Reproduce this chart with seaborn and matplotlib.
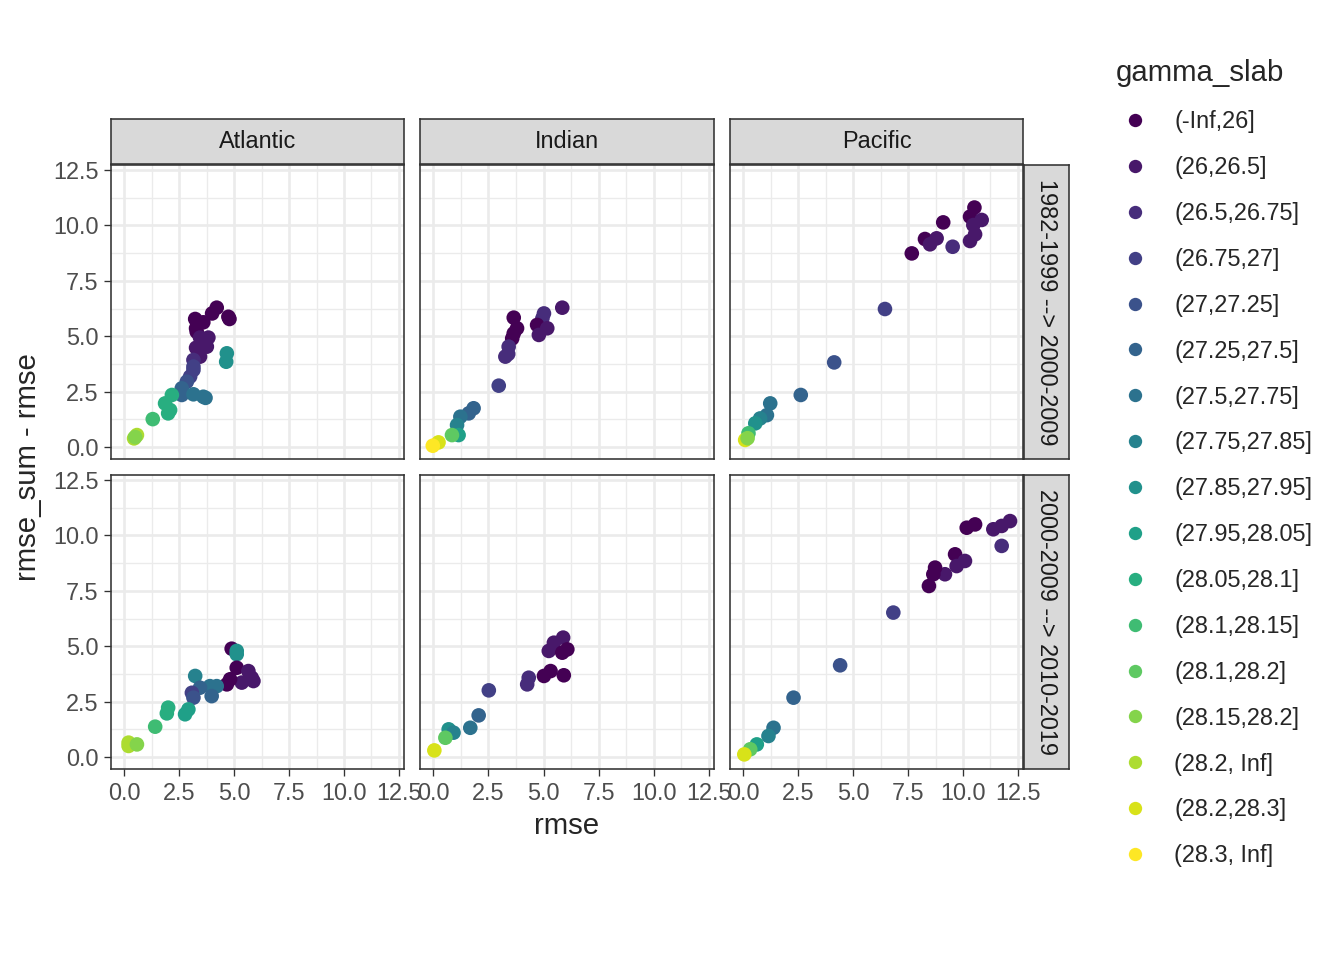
import numpy as np
import pandas as pd
import matplotlib
matplotlib.use("Agg")
import matplotlib.pyplot as plt
from matplotlib.lines import Line2D
import seaborn as sns

# gamma_slab bins (legend order)
gamma_levels = ['(-Inf,26]', '(26,26.5]', '(26.5,26.75]', '(26.75,27]', '(27,27.25]',
                '(27.25,27.5]', '(27.5,27.75]', '(27.75,27.85]', '(27.85,27.95]',
                '(27.95,28.05]', '(28.05,28.1]', '(28.1,28.15]', '(28.1,28.2]',
                '(28.15,28.2]', '(28.2, Inf]', '(28.2,28.3]', '(28.3, Inf]']

basins = ['Atlantic', 'Indian', 'Pacific']
periods = ['1982-1999 --> 2000-2009', '2000-2009 --> 2010-2019']

# Atlantic, first period
atl_1_rmse = [4.21, 4.0, 4.74, 4.79, 3.23, 3.6, 3.27, 3.3, 3.45, 3.83, 3.76, 3.27, 3.45, 3.15, 3.15, 3.15, 3.0,
              2.85, 2.62, 2.62, 3.15, 3.6, 3.7, 4.67, 4.64, 2.17, 1.86, 2.09, 2.0, 1.3, 0.58, 0.45, 0.5]
atl_1_diff = [6.29, 6.03, 5.88, 5.78, 5.78, 5.63, 5.36, 5.2, 4.94, 4.94, 4.53, 4.48, 4.08, 3.93, 3.63, 3.48, 3.18,
              2.95, 2.65, 2.35, 2.38, 2.27, 2.22, 4.23, 3.85, 2.35, 1.97, 1.67, 1.52, 1.26, 0.54, 0.39, 0.45]
atl_1_gam = [0, 0, 0, 0, 0, 0, 0, 0, 1, 1, 1, 1, 1, 2, 3, 3, 3,
             4, 5, 5, 6, 6, 6, 8, 8, 10, 10, 10, 10, 11, 14, 14, 13]

# Atlantic, second period
atl_2_rmse = [4.89, 5.12, 5.12, 5.12, 5.65, 5.8, 5.35, 5.88, 4.82, 4.67, 4.21, 3.9, 3.23, 3.45, 3.08, 3.15,
              3.98, 2.92, 2.77, 2.0, 1.94, 1.41, 0.2, 0.2, 0.58]
atl_2_diff = [4.89, 4.79, 4.64, 4.03, 3.88, 3.58, 3.36, 3.43, 3.51, 3.28, 3.2, 3.2, 3.66, 3.13, 2.9, 2.68,
              2.75, 2.15, 1.93, 2.23, 1.97, 1.37, 0.65, 0.5, 0.57]
atl_2_gam = [0, 8, 8, 0, 1, 1, 1, 1, 0, 0, 6, 6, 7, 5, 3, 4,
             5, 9, 9, 10, 10, 11, 14, 14, 13]

# Indian, first period
ind_1_rmse = [5.85, 5.02, 4.95, 3.65, 3.8, 3.65, 3.58, 4.71, 5.17, 4.79, 3.42, 3.27, 3.4, 2.97, 1.83, 1.61,
              1.23, 1.08, 1.15, 0.85, 0.24, -0.02]
ind_1_diff = [6.29, 6.03, 5.81, 5.84, 5.36, 5.13, 4.9, 5.51, 5.36, 5.06, 4.53, 4.08, 4.2, 2.77, 1.75, 1.52,
              1.37, 0.99, 0.54, 0.54, 0.21, 0.06]
ind_1_gam = [1, 2, 2, 0, 0, 0, 0, 0, 1, 1, 2, 2, 2, 3, 5, 5,
             6, 7, 9, 12, 15, 16]

# Indian, second period
ind_2_rmse = [5.89, 5.47, 5.24, 6.08, 5.85, 5.32, 5.02, 5.92, 4.33, 4.26, 2.52, 2.06, 1.68, 0.7, 0.92, 0.55, 0.05]
ind_2_diff = [5.39, 5.16, 4.79, 4.86, 4.71, 3.88, 3.66, 3.69, 3.58, 3.28, 3.01, 1.88, 1.32, 1.25, 1.1, 0.87, 0.3]
ind_2_gam = [1, 1, 1, 0, 0, 0, 0, 0, 2, 2, 3, 5, 6, 8, 7, 12, 15]

# Pacific, first period
pac_1_rmse = [10.52, 10.32, 10.85, 10.47, 10.55, 10.32, 9.1, 8.27, 8.8, 8.5, 7.67, 9.53, 6.45, 4.14, 2.62,
              1.23, 1.08, 0.77, 0.55, 0.24, 0.09, 0.2]
pac_1_diff = [10.81, 10.4, 10.25, 10.02, 9.6, 9.3, 10.14, 9.39, 9.42, 9.15, 8.74, 9.04, 6.23, 3.82, 2.35,
              1.97, 1.44, 1.29, 1.07, 0.62, 0.32, 0.4]
pac_1_gam = [0, 0, 1, 1, 1, 1, 0, 0, 1, 1, 0, 2, 3, 4, 5, 6, 6, 7, 8, 11, 15, 13]

# Pacific, second period
pac_2_rmse = [10.55, 10.17, 12.14, 11.76, 11.38, 11.76, 9.64, 10.09, 9.71, 9.18, 8.73, 8.65, 8.45, 6.83, 4.41,
              2.29, 1.38, 1.15, 0.62, 0.32, 0.05]
pac_2_diff = [10.5, 10.35, 10.65, 10.43, 10.28, 9.53, 9.15, 8.85, 8.62, 8.25, 8.55, 8.25, 7.72, 6.52, 4.14,
              2.68, 1.32, 0.95, 0.57, 0.35, 0.12]
pac_2_gam = [0, 0, 1, 1, 1, 2, 0, 1, 1, 1, 0, 0, 0, 3, 4, 5, 6, 7, 9, 12, 15]

panels = {
    ('Atlantic', 0): (atl_1_rmse, atl_1_diff, atl_1_gam),
    ('Atlantic', 1): (atl_2_rmse, atl_2_diff, atl_2_gam),
    ('Indian', 0): (ind_1_rmse, ind_1_diff, ind_1_gam),
    ('Indian', 1): (ind_2_rmse, ind_2_diff, ind_2_gam),
    ('Pacific', 0): (pac_1_rmse, pac_1_diff, pac_1_gam),
    ('Pacific', 1): (pac_2_rmse, pac_2_diff, pac_2_gam),
}

sns.set_style("white")
plt.rcParams['font.family'] = ['Liberation Sans', 'DejaVu Sans']

palette = dict(zip(gamma_levels, [matplotlib.colormaps['viridis'](v) for v in np.linspace(0, 1, len(gamma_levels))]))

W, H = 1344, 960
fig = plt.figure(figsize=(7, 5), dpi=192)

def rect(x0, y0, x1, y1):
    return [x0 / W, 1 - y1 / H, (x1 - x0) / W, (y1 - y0) / H]

col_x = [(111, 404), (420, 714), (730, 1023)]
row_y = [(165, 459), (475, 769)]
border = '#333333'
ticks = np.arange(0, 12.6, 2.5)
minor = np.arange(1.25, 12.6, 2.5)

for ci, basin in enumerate(basins):
    for ri in range(2):
        x0, x1 = col_x[ci]
        y0, y1 = row_y[ri]
        ax = fig.add_axes(rect(x0, y0, x1, y1))
        rm, df_, gm = panels[(basin, ri)]
        df = pd.DataFrame({'rmse': rm, 'diff': df_, 'gamma_slab': [gamma_levels[g] for g in gm]})
        sns.scatterplot(data=df, x='rmse', y='diff', hue='gamma_slab', hue_order=gamma_levels,
                        palette=palette, s=30, linewidth=0, legend=False, ax=ax, zorder=3)
        ax.set_xlim(-0.6, 12.73)
        ax.set_ylim(-0.54, 12.73)
        ax.set_xticks(ticks)
        ax.set_yticks(ticks)
        ax.set_xticks(minor, minor=True)
        ax.set_yticks(minor, minor=True)
        ax.grid(True, which='major', color='#EBEBEB', linewidth=1.0)
        ax.grid(True, which='minor', color='#EBEBEB', linewidth=0.5)
        ax.set_axisbelow(True)
        for sp in ax.spines.values():
            sp.set_color(border)
            sp.set_linewidth(0.6)
        ax.tick_params(which='major', length=2.75, width=0.5, color=border, labelsize=8.8,
                       labelcolor='#4D4D4D', pad=2, bottom=ri == 1, left=ci == 0,
                       labelbottom=ri == 1, labelleft=ci == 0)
        ax.tick_params(which='minor', length=0)
        ax.set_xlabel('')
        ax.set_ylabel('')
        ax.xaxis.set_major_formatter(matplotlib.ticker.FormatStrFormatter('%.1f'))
        ax.yaxis.set_major_formatter(matplotlib.ticker.FormatStrFormatter('%.1f'))

# strips on top
for ci, basin in enumerate(basins):
    x0, x1 = col_x[ci]
    sa = fig.add_axes(rect(x0, 119, x1, 164))
    sa.set_facecolor('#D9D9D9')
    sa.set_xticks([]); sa.set_yticks([])
    for sp in sa.spines.values():
        sp.set_color(border); sp.set_linewidth(0.6)
    sa.text(0.5, 0.5, basin, ha='center', va='center', fontsize=8.8, color='#1A1A1A', transform=sa.transAxes)

# strips on the right
for ri, per in enumerate(periods):
    y0, y1 = row_y[ri]
    sa = fig.add_axes(rect(1024, y0, 1069, y1))
    sa.set_facecolor('#D9D9D9')
    sa.set_xticks([]); sa.set_yticks([])
    for sp in sa.spines.values():
        sp.set_color(border); sp.set_linewidth(0.6)
    sa.text(0.5, 0.5, per, ha='center', va='center', fontsize=8.8, color='#1A1A1A',
            rotation=-90, transform=sa.transAxes)

fig.text(567 / W, 1 - 826 / H, 'rmse', ha='center', va='center', fontsize=11)
fig.text(28 / W, 1 - 467 / H, 'rmse_sum - rmse', ha='center', va='center', fontsize=11, rotation=90)

handles = [Line2D([], [], marker='o', linestyle='', markersize=5.0, markerfacecolor=palette[g],
                  markeredgewidth=0) for g in gamma_levels]
leg = fig.legend(handles, gamma_levels, loc='upper left', bbox_to_anchor=(1106 / W, 1 - 50 / H),
                 frameon=False, title='gamma_slab', alignment='left', fontsize=8.8,
                 title_fontsize=11, labelspacing=0.975, handletextpad=0.8, handlelength=1.7,
                 borderaxespad=0)

fig.savefig('out.png', dpi=192, facecolor='white')
